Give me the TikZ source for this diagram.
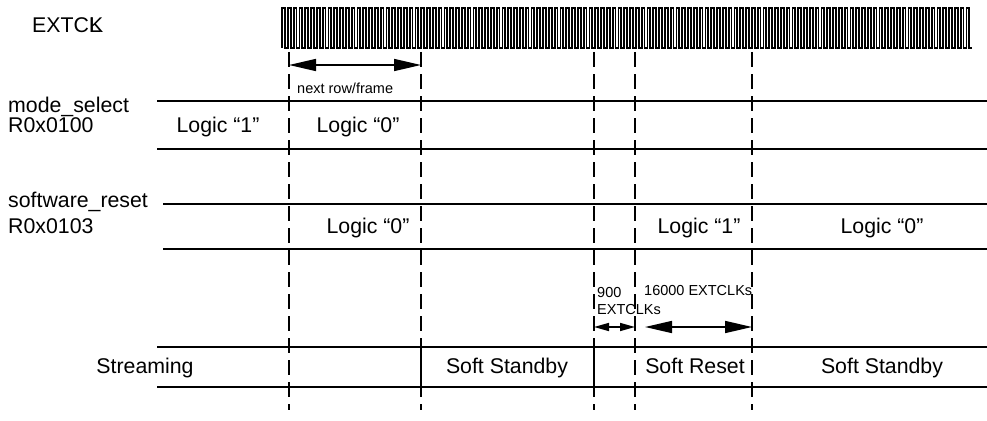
\documentclass[tikz,border=0pt]{standalone}
\usepackage{fontspec}
\setmainfont{Liberation Sans}
\usepackage{tikz}
\usetikzlibrary{arrows.meta}

\tikzset{
    big/.style={font=\fontsize{21.3}{24}\selectfont, inner sep=0pt},
    small/.style={font=\fontsize{14.5}{17}\selectfont, inner sep=0pt},
    signal/.style={line width=1.5pt},
    marker/.style={line width=1.5pt, dash pattern=on 15pt off 7pt},
    spanlong/.style={line width=1.6pt,
        {Triangle[length=27pt,width=12pt]}-{Triangle[length=27pt,width=12pt]}},
    spanshort/.style={line width=1.6pt,
        {Triangle[length=15pt,width=8pt]}-{Triangle[length=15pt,width=8pt]}}
}

\begin{document}
\begin{tikzpicture}[x=1pt, y=-1pt]
    \useasboundingbox (0,0) rectangle (987,420);

    % arrow ends on the marker lines
    \coordinate (RF1) at (289,65);
    \coordinate (RF2) at (421,65);
    \coordinate (C1) at (594,327);
    \coordinate (C2) at (635,327);
    \coordinate (C3) at (645,327);
    \coordinate (C4) at (752,327);

    % clock
    \draw[line width=1.8pt] (282,48) \foreach \i in {1,...,119} {
        -- ++(0,-40) -- ++(2.9,0) -- ++(0,40) -- ++(2.9,0) };

    % marker lines
    \foreach \x in {289,421,594,635,752}
        \draw[marker] (\x,52) -- (\x,410);

    % register rows
    \draw[signal] (157,101) -- (987,101);
    \draw[signal] (157,149) -- (987,149);
    \draw[signal] (163,204) -- (987,204);
    \draw[signal] (163,249) -- (987,249);

    % state row
    \draw[signal] (157,347) -- (987,347);
    \draw[signal] (157,387) -- (987,387);
    \draw[signal] (421,347) -- (421,387);
    \draw[signal] (594,347) -- (594,387);

    \draw[spanlong] (RF1) -- (RF2);
    \draw[spanshort] (C1) -- (C2);
    \draw[spanlong] (C3) -- (C4);

    \node[big, anchor=base west] (clk) at (32,33) {EXTC\rlap{L}K};
    \node[big, anchor=base west] (msel) at (8,112) {mode\_select};
    \node[big, anchor=base west] (mreg) at (8,132) {R0x0100};
    \node[big, anchor=base west] (srst) at (8,207) {software\_reset};
    \node[big, anchor=base west] (sreg) at (8,233) {R0x0103};

    \node[big, anchor=base] (m1) at (218,132) {Logic “1”};
    \node[big, anchor=base] (m0) at (358,132) {Logic “0”};
    \node[big, anchor=base] (s0) at (368,233) {Logic “0”};
    \node[big, anchor=base] (s1) at (699,233) {Logic “1”};
    \node[big, anchor=base] (s0b) at (882,233) {Logic “0”};

    \node[small, anchor=base west] (rowtxt) at (297,93) {next row/frame};
    \node[small, anchor=base west] (n900) at (597,297) {900};
    \node[small, anchor=base west] (n900b) at (597,314) {EXTCLKs};
    \node[small, anchor=base west] (n16k) at (644,295) {16000 EXTCLKs};

    \node[big, anchor=base] (stream) at (145,373) {Streaming};
    \node[big, anchor=base] (stby1) at (507,373) {Soft Standby};
    \node[big, anchor=base] (sreset) at (695,373) {Soft Reset};
    \node[big, anchor=base] (stby2) at (882,373) {Soft Standby};
\end{tikzpicture}
\end{document}
